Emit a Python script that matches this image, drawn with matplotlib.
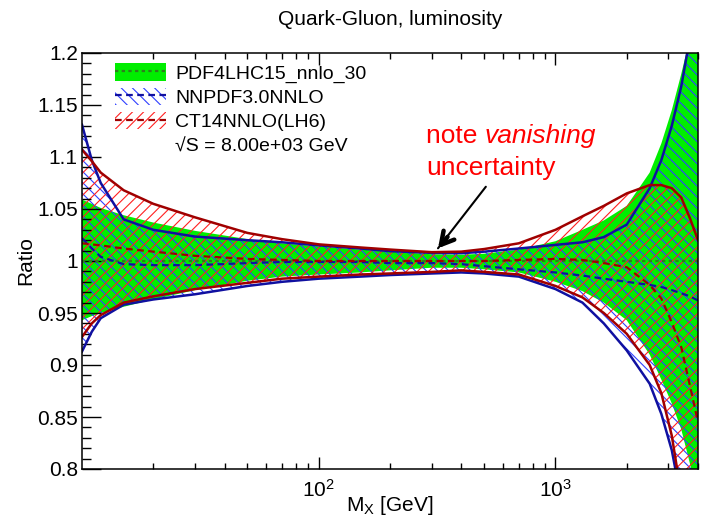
import matplotlib
matplotlib.use('Agg')
import matplotlib.pyplot as plt
from matplotlib.patches import Patch
from matplotlib.lines import Line2D
from matplotlib.ticker import MultipleLocator, FormatStrFormatter, NullFormatter

plt.rcParams['font.family'] = ['Liberation Sans', 'DejaVu Sans']
plt.rcParams['mathtext.fontset'] = 'custom'
plt.rcParams['mathtext.rm'] = 'Liberation Sans'
plt.rcParams['mathtext.it'] = 'Liberation Sans:italic'
plt.rcParams['hatch.linewidth'] = 0.8

# M_X grid [GeV]
mx = [10, 11, 12, 15, 20, 30, 50, 70, 100, 150, 200, 300, 400, 500, 700,
      1000, 1300, 1600, 2000, 2500, 2800, 3100, 3400, 3700, 4000]

# PDF4LHC15_nnlo_30
pdf_c = [1.0, 1.0, 1.0, 1.0, 1.0, 1.0, 1.0, 1.0, 1.0, 1.0, 1.0, 1.0, 1.0,
         1.0, 1.0, 1.0, 1.0, 1.0, 1.0, 1.0, 1.0, 1.0, 1.0, 1.0, 1.0]
pdf_up = [1.059, 1.055, 1.051, 1.044, 1.037, 1.029, 1.021, 1.017, 1.014, 1.011,
          1.009, 1.0065, 1.006, 1.007, 1.011, 1.019, 1.030, 1.039, 1.053, 1.085,
          1.113, 1.145, 1.18, 1.215, 1.27]
pdf_dn = [0.943, 0.947, 0.950, 0.956, 0.963, 0.972, 0.981, 0.985, 0.987, 0.989,
          0.991, 0.9935, 0.9935, 0.992, 0.989, 0.980, 0.971, 0.960, 0.943, 0.910,
          0.886, 0.863, 0.838, 0.805, 0.77]

# NNPDF3.0NNLO
nn_c = [1.022, 1.012, 1.004, 0.997, 0.996, 0.996, 0.998, 0.999, 0.999, 0.999,
        0.998, 0.998, 0.997, 0.995, 0.992, 0.989, 0.986, 0.983, 0.980, 0.977,
        0.975, 0.972, 0.969, 0.966, 0.962]
nn_up = [1.131, 1.097, 1.075, 1.040, 1.030, 1.0235, 1.020, 1.018, 1.015, 1.012,
         1.0095, 1.0078, 1.0075, 1.009, 1.012, 1.0155, 1.018, 1.023, 1.035, 1.07,
         1.097, 1.13, 1.168, 1.215, 1.28]
nn_dn = [0.913, 0.932, 0.945, 0.958, 0.963, 0.968, 0.976, 0.980, 0.983, 0.985,
         0.9865, 0.988, 0.989, 0.988, 0.985, 0.973, 0.960, 0.940, 0.914, 0.882,
         0.853, 0.818, 0.77, 0.71, 0.65]

# CT14NNLO(LH6)
ct_c = [1.017, 1.016, 1.015, 1.012, 1.009, 1.005, 1.002, 1.001, 1.000, 1.000,
        1.000, 1.000, 1.000, 1.000, 1.001, 1.002, 1.001, 0.998, 0.994, 0.977,
        0.964, 0.941, 0.917, 0.88, 0.845]
ct_up = [1.107, 1.096, 1.085, 1.068, 1.055, 1.042, 1.027, 1.021, 1.016, 1.013,
         1.011, 1.0085, 1.009, 1.0115, 1.017, 1.030, 1.043, 1.053, 1.065, 1.073,
         1.073, 1.070, 1.061, 1.041, 1.02]
ct_dn = [0.927, 0.940, 0.948, 0.960, 0.966, 0.973, 0.979, 0.983, 0.985, 0.987,
         0.988, 0.9895, 0.991, 0.9895, 0.987, 0.976, 0.965, 0.950, 0.930, 0.900,
         0.873, 0.832, 0.775, 0.715, 0.655]

labels = ['PDF4LHC15_nnlo_30', 'NNPDF3.0NNLO', 'CT14NNLO(LH6)',
          '\u221aS = 8.00e+03 GeV']

green = '#00ee00'
dgreen = '#2e7d1e'
blue_h = '#3040ff'
blue_l = '#1010a0'
red_h = '#ff2020'
red_l = '#a00000'

fig = plt.figure(figsize=(7.02, 5.19), dpi=100)
ax = fig.add_axes([82 / 702, 50 / 519, 616 / 702, 416 / 519])

ax.fill_between(mx, pdf_dn, pdf_up, facecolor=green, edgecolor='none', zorder=1)
ax.fill_between(mx, nn_dn, nn_up, facecolor='none', edgecolor=blue_h,
                hatch='\\\\\\', linewidth=0, zorder=1.2)
ax.fill_between(mx, ct_dn, ct_up, facecolor='none', edgecolor=red_h,
                hatch='///', linewidth=0, zorder=1.4)

ax.plot(mx, pdf_c, color=dgreen, ls=(0, (1.5, 1.5)), lw=1.6, zorder=2)
ax.plot(mx, nn_up, color=blue_l, lw=1.8, zorder=2.1)
ax.plot(mx, nn_dn, color=blue_l, lw=1.8, zorder=2.1)
ax.plot(mx, nn_c, color=blue_l, ls=(0, (3, 2)), lw=1.6, zorder=2.1)
ax.plot(mx, ct_up, color=red_l, lw=1.8, zorder=2.2)
ax.plot(mx, ct_dn, color=red_l, lw=1.8, zorder=2.2)
ax.plot(mx, ct_c, color=red_l, ls=(0, (3, 2)), lw=1.6, zorder=2.2)

ax.set_xscale('log')
ax.set_xlim(10, 4000)
ax.set_ylim(0.8, 1.2)
ax.set_xticks([100, 1000])
ax.xaxis.set_minor_formatter(NullFormatter())
ax.yaxis.set_major_locator(MultipleLocator(0.05))
ax.yaxis.set_minor_locator(MultipleLocator(0.01))
ax.yaxis.set_major_formatter(FormatStrFormatter('%g'))

ax.tick_params(axis='both', which='both', direction='in', top=True, right=False,
               labelsize=15, width=1.0)
ax.tick_params(axis='y', which='major', length=13.5, pad=3)
ax.tick_params(axis='y', which='minor', length=6.5)
ax.tick_params(axis='x', which='major', length=8.5, pad=7)
ax.tick_params(axis='x', which='minor', length=4.3)
for s in ax.spines.values():
    s.set_linewidth(1.1)

ax.set_title('Quark-Gluon, luminosity', fontsize=15, pad=20)
ax.set_ylabel('Ratio', fontsize=15)
ax.yaxis.set_label_coords(-0.076, 0.5)
ax.set_xlabel(r'M$_{\mathrm{X}}$ [GeV]', fontsize=15)
ax.xaxis.set_label_coords(0.5, -0.06)

handles = [
    (Patch(facecolor=green, edgecolor='none'),
     Line2D([], [], color=dgreen, ls=(0, (1.5, 1.5)), lw=1.6)),
    (Patch(facecolor='none', edgecolor=blue_h, hatch='\\\\\\', lw=0),
     Line2D([], [], color=blue_l, ls=(0, (3, 2)), lw=1.6)),
    (Patch(facecolor='none', edgecolor=red_h, hatch='///', lw=0),
     Line2D([], [], color=red_l, ls=(0, (3, 2)), lw=1.6)),
    Patch(facecolor='none', edgecolor='none'),
]
ax.legend(handles, labels, loc='upper left', bbox_to_anchor=(0.0536, 0.975),
          frameon=False, fontsize=14, handlelength=2.6, handleheight=1.0,
          handletextpad=0.5, labelspacing=0.25, borderaxespad=0, borderpad=0)

ax.text(285, 1.1135, 'note ', color='red', fontsize=19)
ax.text(503, 1.1135, 'vanishing', color='red', fontsize=19, style='italic')
ax.text(285, 1.0827, 'uncertainty', color='red', fontsize=19)
ax.annotate('', xy=(319, 1.0122), xytext=(508, 1.0714),
            arrowprops=dict(arrowstyle='-', color='black', lw=1.5,
                            shrinkA=0, shrinkB=0))
ax.annotate('', xy=(319, 1.0122), xytext=(350, 1.0232),
            arrowprops=dict(arrowstyle='->, head_length=0.9, head_width=0.5',
                            color='black', lw=3.2, shrinkA=0, shrinkB=0))

fig.savefig('out.png', dpi=100)
